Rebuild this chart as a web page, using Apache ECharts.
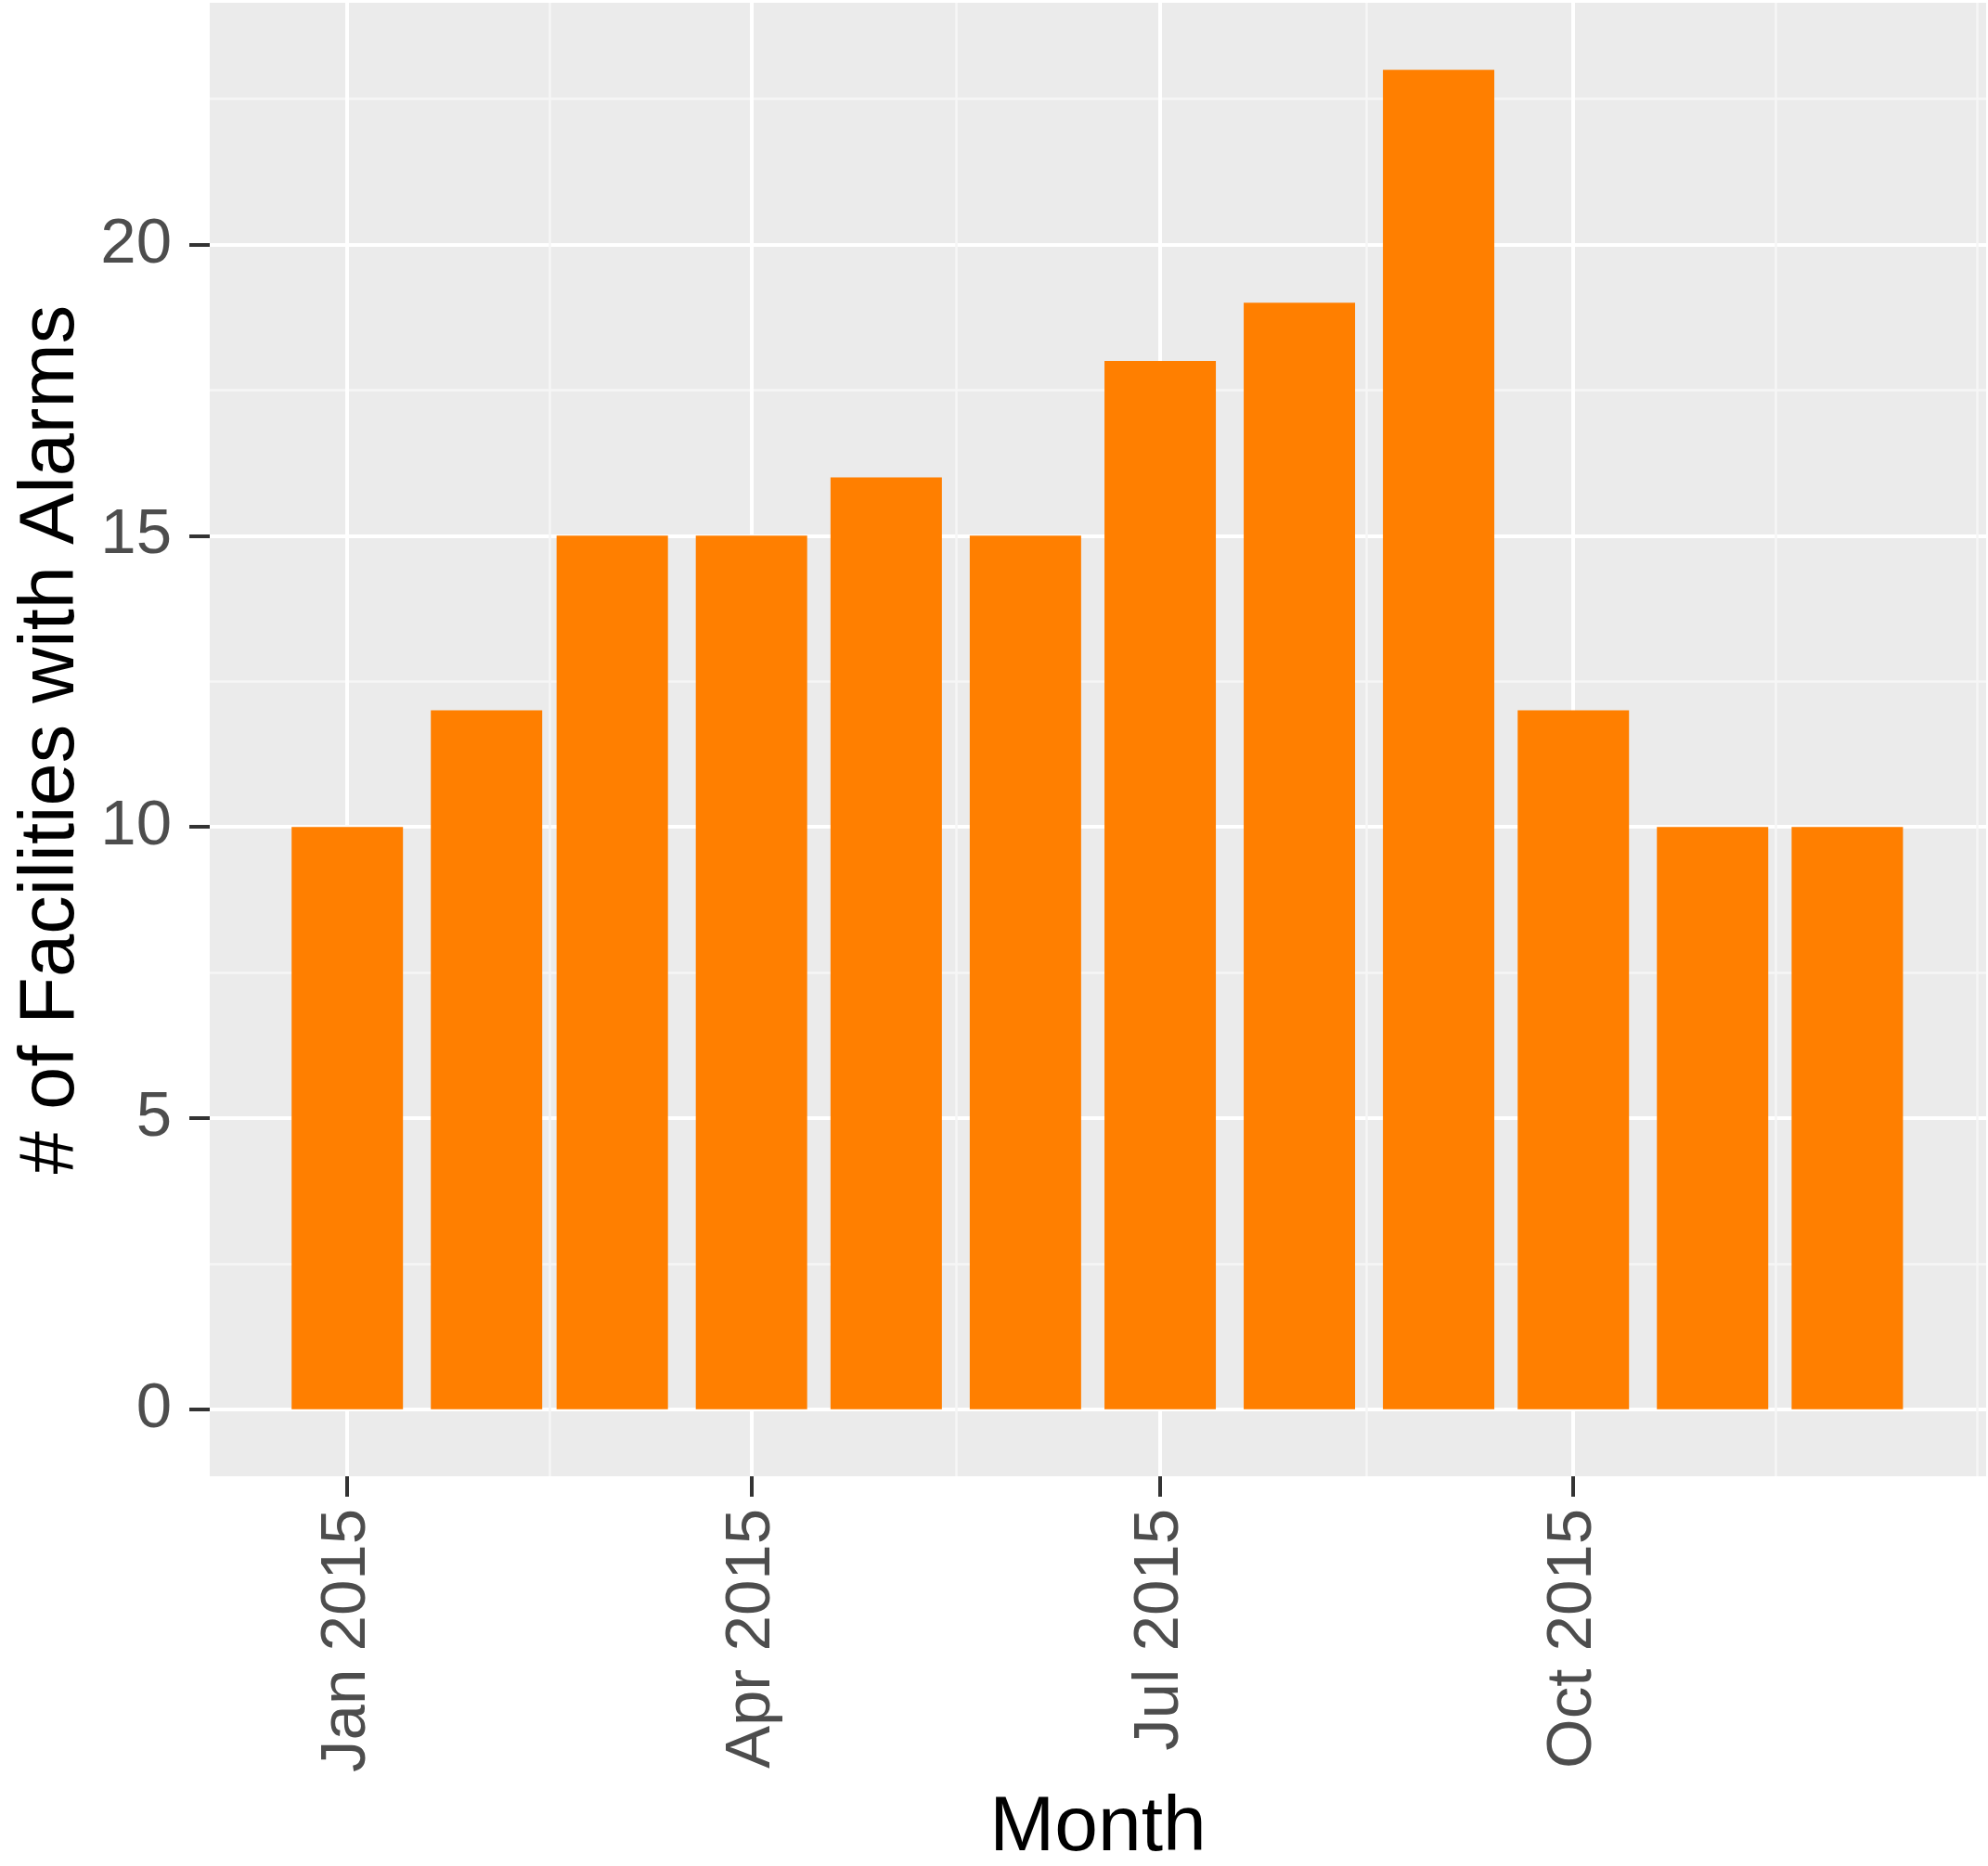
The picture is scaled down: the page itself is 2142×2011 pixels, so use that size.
<!DOCTYPE html>
<html>
<head>
<meta charset="utf-8">
<script src="https://cdn.jsdelivr.net/npm/echarts@6/dist/echarts.min.js"></script>
<style>
html,body{margin:0;padding:0;background:#ffffff;}
#chart{width:2142px;height:2011px;}
</style>
</head>
<body>
<div id="chart"></div>
<script>
// ---- data ----
const months = ['2015-01-01','2015-02-01','2015-03-01','2015-04-01','2015-05-01','2015-06-01',
                '2015-07-01','2015-08-01','2015-09-01','2015-10-01','2015-11-01','2015-12-01'];
const facilities = [10, 12, 15, 15, 16, 15, 18, 19, 23, 12, 10, 10];
const xTickDates = ['2015-01-01','2015-04-01','2015-07-01','2015-10-01'];
const xTickLabels = ['Jan 2015','Apr 2015','Jul 2015','Oct 2015'];
const xMinorDates = ['2015-02-15','2015-05-16T12:00:00','2015-08-16','2015-11-15','2015-12-30'];
const xRange = ['2014-12-01T09:00:00','2015-12-31T22:00:00'];
const yTicks = [0, 5, 10, 15, 20];
const yMinor = [2.5, 7.5, 12.5, 17.5, 22.5];
const yRange = [-1.15, 24.15];

const t = s => +echarts.time.parse(s);
const xTickTs = xTickDates.map(t);
const FONT = '"Liberation Sans", Arial, Helvetica, sans-serif';
const MAJOR = {color:'#FFFFFF', width:4};
const MINOR = {color:'#F6F6F6', width:2.5};

const chart = echarts.init(document.getElementById('chart'), null, {renderer:'canvas'});
const option = {
  animation:false,
  backgroundColor:'#FFFFFF',
  grid:{left:226, right:2, top:3, bottom:420, containLabel:false, outerBoundsMode:'none',
        show:true, backgroundColor:'#EBEBEB', borderWidth:0},
  xAxis:[{
    type:'value', min:t(xRange[0]), max:t(xRange[1]), scale:true, position:'bottom',
    axisLine:{show:false, onZero:false},
    axisTick:{show:true, length:22, lineStyle:{color:'#333333', width:4}, customValues:xTickTs},
    axisLabel:{show:true, customValues:xTickTs, rotate:90, margin:35, fontSize:69,
               color:'#4D4D4D', fontFamily:FONT,
               formatter:function(v){ const i = xTickTs.indexOf(+v); return i >= 0 ? xTickLabels[i] : ''; }},
    splitLine:{show:true, lineStyle:MAJOR},
    name:'Month', nameLocation:'middle', nameGap:338,
    nameTextStyle:{fontSize:84, color:'#000000', fontFamily:FONT}
  },{
    type:'value', min:t(xRange[0]), max:t(xRange[1]), scale:true, position:'bottom',
    axisLine:{show:false, onZero:false},
    axisTick:{show:false, customValues:xMinorDates.map(t)},
    axisLabel:{show:false, customValues:xMinorDates.map(t)},
    splitLine:{show:true, lineStyle:MINOR}
  }],
  yAxis:[{
    type:'value', min:yRange[0], max:yRange[1],
    axisLine:{show:false, onZero:false},
    axisTick:{show:true, length:22, lineStyle:{color:'#333333', width:4}, customValues:yTicks},
    axisLabel:{show:true, customValues:yTicks, margin:41, fontSize:69, color:'#4D4D4D', fontFamily:FONT},
    splitLine:{show:true, lineStyle:MAJOR},
    name:'# of Facilities with Alarms', nameLocation:'middle', nameGap:127,
    nameTextStyle:{fontSize:83, color:'#000000', fontFamily:FONT}
  },{
    type:'value', min:yRange[0], max:yRange[1], position:'left',
    axisLine:{show:false, onZero:false},
    axisTick:{show:false, customValues:yMinor},
    axisLabel:{show:false, customValues:yMinor},
    splitLine:{show:true, lineStyle:MINOR}
  }],
  series:[{
    type:'bar', xAxisIndex:0, yAxisIndex:0,
    data:months.map((m, i) => [t(m), facilities[i]]),
    barWidth:120,
    itemStyle:{color:'#FF7F00'},
    z:2
  }]
};
chart.setOption(option);
</script>
</body>
</html>
